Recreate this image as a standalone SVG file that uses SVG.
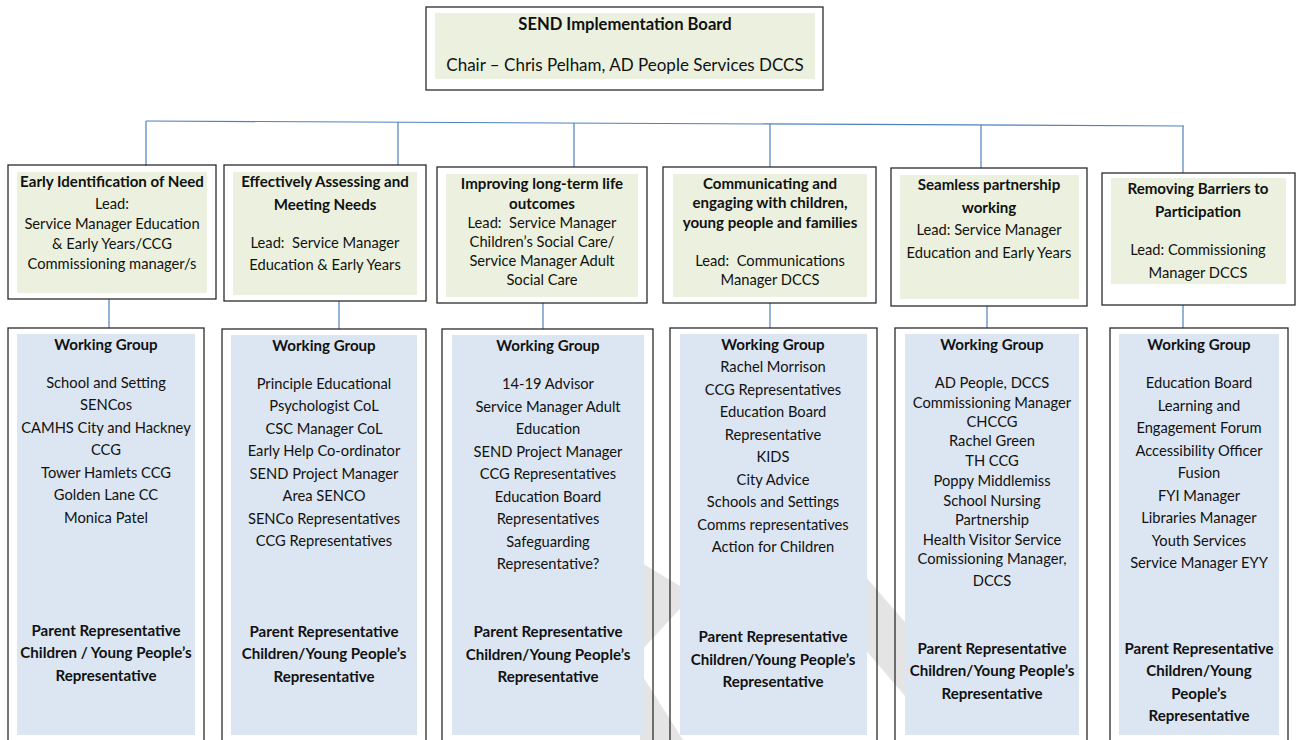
<svg xmlns="http://www.w3.org/2000/svg" width="1302" height="740" viewBox="0 0 1302 740">
<style>
.box{fill:none;stroke:#2b2b2b;stroke-width:1.3}
.g{fill:#EBF1DE}
.b{fill:#DCE6F2}
.wm{fill:#e4e4e4}
.c{stroke:#4F81BD;stroke-width:1.2;fill:none}
text{font-family:Lato,"Open Sans","Liberation Sans",sans-serif;font-size:14.7px;fill:#111;text-anchor:middle}
.h{font-weight:bold;font-size:15.1px}
</style>
<rect width="1302" height="740" fill="#fff"/>
<g id="watermark">
<polygon class="wm" points="640,562 690,592 690,598 640,652"/>
<polygon class="wm" points="640,672 702,770 640,770"/>
<polygon class="wm" points="858,568 917,636 917,710 858,641"/>
</g>
<g id="connectors">
<line class="c" x1="146" y1="121" x2="1184" y2="126"/>
<line class="c" x1="146" y1="121" x2="146" y2="166"/>
<line class="c" x1="398" y1="122" x2="398" y2="165"/>
<line class="c" x1="574" y1="123" x2="574" y2="167"/>
<line class="c" x1="770" y1="124" x2="770" y2="167"/>
<line class="c" x1="981" y1="125" x2="981" y2="168"/>
<line class="c" x1="1183" y1="126" x2="1183" y2="173"/>
<line class="c" x1="109" y1="299" x2="109" y2="328"/>
<line class="c" x1="339" y1="301" x2="339" y2="329"/>
<line class="c" x1="543" y1="303" x2="543" y2="329"/>
<line class="c" x1="770" y1="303" x2="770" y2="328"/>
<line class="c" x1="987" y1="306" x2="987" y2="328"/>
<line class="c" x1="1183" y1="305" x2="1183" y2="328"/>
</g>
<g id="board">
<rect class="g" x="435" y="13" width="380" height="66"/>
<rect class="box" x="426" y="7" width="397" height="83"/>
<text class="h" x="625" y="30" style="font-size:16.6px">SEND Implementation Board</text>
<text x="625" y="71" style="font-size:17px">Chair – Chris Pelham, AD People Services DCCS</text>
</g>
<g id="lead1">
<rect class="g" x="17" y="172" width="190" height="121"/>
<rect class="box" x="8" y="165" width="208" height="134"/>
<text class="h" x="112" y="187">Early Identification of Need</text>
<text x="112" y="209">Lead:</text>
<text x="112" y="229">Service Manager Education</text>
<text x="112" y="249">&amp; Early Years/CCG</text>
<text x="112" y="269">Commissioning manager/s</text>
</g>
<g id="lead2">
<rect class="g" x="233" y="172" width="184" height="123"/>
<rect class="box" x="224" y="165" width="202" height="136"/>
<text class="h" x="325" y="187">Effectively Assessing and</text>
<text class="h" x="325" y="210">Meeting Needs</text>
<text x="325" y="248">Lead:&#160; Service Manager</text>
<text x="325" y="270">Education &amp; Early Years</text>
</g>
<g id="lead3">
<rect class="g" x="446" y="174" width="192" height="123"/>
<rect class="box" x="437" y="167" width="210" height="136"/>
<text class="h" x="542" y="189">Improving long-term life</text>
<text class="h" x="542" y="209">outcomes</text>
<text x="542" y="228">Lead:&#160; Service Manager</text>
<text x="542" y="247">Children’s Social Care/</text>
<text x="542" y="266">Service Manager Adult</text>
<text x="542" y="285">Social Care</text>
</g>
<g id="lead4">
<rect class="g" x="673" y="174" width="194" height="123"/>
<rect class="box" x="663" y="167" width="213" height="136"/>
<text class="h" x="770" y="189">Communicating and</text>
<text class="h" x="770" y="208">engaging with children,</text>
<text class="h" x="770" y="228">young people and families</text>
<text x="770" y="266">Lead:&#160; Communications</text>
<text x="770" y="285">Manager DCCS</text>
</g>
<g id="lead5">
<rect class="g" x="900" y="175" width="179" height="124"/>
<rect class="box" x="891" y="168" width="196" height="138"/>
<text class="h" x="989" y="190">Seamless partnership</text>
<text class="h" x="989" y="213">working</text>
<text x="989" y="235">Lead: Service Manager</text>
<text x="989" y="258">Education and Early Years</text>
</g>
<g id="lead6">
<rect class="g" x="1111" y="178" width="175" height="106"/>
<rect class="box" x="1102" y="173" width="193" height="132"/>
<text class="h" x="1198" y="194">Removing Barriers to</text>
<text class="h" x="1198" y="217">Participation</text>
<text x="1198" y="255">Lead: Commissioning</text>
<text x="1198" y="278">Manager DCCS</text>
</g>
<g id="wg1">
<rect class="b" x="17" y="334" width="178" height="401"/>
<rect class="box" x="8" y="328" width="196" height="420"/>
<text class="h" x="106" y="350">Working Group</text>
<text x="106" y="388">School and Setting</text>
<text x="106" y="410">SENCos</text>
<text x="106" y="433">CAMHS City and Hackney</text>
<text x="106" y="455">CCG</text>
<text x="106" y="478">Tower Hamlets CCG</text>
<text x="106" y="500">Golden Lane CC</text>
<text x="106" y="523">Monica Patel</text>
<text class="h" x="106" y="636">Parent Representative</text>
<text class="h" x="106" y="658">Children / Young People’s</text>
<text class="h" x="106" y="681">Representative</text>
</g>
<g id="wg2">
<rect class="b" x="231" y="335" width="186" height="400"/>
<rect class="box" x="222" y="329" width="204" height="420"/>
<text class="h" x="324" y="351">Working Group</text>
<text x="324" y="389">Principle Educational</text>
<text x="324" y="411">Psychologist CoL</text>
<text x="324" y="434">CSC Manager CoL</text>
<text x="324" y="456">Early Help Co-ordinator</text>
<text x="324" y="479">SEND Project Manager</text>
<text x="324" y="501">Area SENCO</text>
<text x="324" y="524">SENCo Representatives</text>
<text x="324" y="546">CCG Representatives</text>
<text class="h" x="324" y="637">Parent Representative</text>
<text class="h" x="324" y="659">Children/Young People’s</text>
<text class="h" x="324" y="682">Representative</text>
</g>
<g id="wg3">
<rect class="b" x="452" y="335" width="192" height="400"/>
<rect class="box" x="442" y="329" width="211" height="420"/>
<text class="h" x="548" y="351">Working Group</text>
<text x="548" y="389">14-19 Advisor</text>
<text x="548" y="412">Service Manager Adult</text>
<text x="548" y="434">Education</text>
<text x="548" y="457">SEND Project Manager</text>
<text x="548" y="479">CCG Representatives</text>
<text x="548" y="502">Education Board</text>
<text x="548" y="524">Representatives</text>
<text x="548" y="547">Safeguarding</text>
<text x="548" y="569">Representative?</text>
<text class="h" x="548" y="637">Parent Representative</text>
<text class="h" x="548" y="660">Children/Young People’s</text>
<text class="h" x="548" y="682">Representative</text>
</g>
<g id="wg4">
<rect class="b" x="680" y="334" width="187" height="401"/>
<rect class="box" x="670" y="328" width="207" height="420"/>
<text class="h" x="773" y="350">Working Group</text>
<text x="773" y="372">Rachel Morrison</text>
<text x="773" y="395">CCG Representatives</text>
<text x="773" y="417">Education Board</text>
<text x="773" y="440">Representative</text>
<text x="773" y="462">KIDS</text>
<text x="773" y="485">City Advice</text>
<text x="773" y="507">Schools and Settings</text>
<text x="773" y="530">Comms representatives</text>
<text x="773" y="552">Action for Children</text>
<text class="h" x="773" y="642">Parent Representative</text>
<text class="h" x="773" y="665">Children/Young People’s</text>
<text class="h" x="773" y="687">Representative</text>
</g>
<g id="wg5">
<rect class="b" x="905" y="334" width="174" height="401"/>
<rect class="box" x="895" y="328" width="192" height="420"/>
<text class="h" x="992" y="350">Working Group</text>
<text x="992" y="388">AD People, DCCS</text>
<text x="992" y="408">Commissioning Manager</text>
<text x="992" y="427">CHCCG</text>
<text x="992" y="446">Rachel Green</text>
<text x="992" y="466">TH CCG</text>
<text x="992" y="486">Poppy Middlemiss</text>
<text x="992" y="506">School Nursing</text>
<text x="992" y="525">Partnership</text>
<text x="992" y="545">Health Visitor Service</text>
<text x="992" y="564">Comissioning Manager,</text>
<text x="992" y="586">DCCS</text>
<text class="h" x="992" y="654">Parent Representative</text>
<text class="h" x="992" y="676">Children/Young People’s</text>
<text class="h" x="992" y="699">Representative</text>
</g>
<g id="wg6">
<rect class="b" x="1119" y="334" width="160" height="401"/>
<rect class="box" x="1110" y="328" width="178" height="420"/>
<text class="h" x="1199" y="350">Working Group</text>
<text x="1199" y="388">Education Board</text>
<text x="1199" y="411">Learning and</text>
<text x="1199" y="433">Engagement Forum</text>
<text x="1199" y="456">Accessibility Officer</text>
<text x="1199" y="478">Fusion</text>
<text x="1199" y="501">FYI Manager</text>
<text x="1199" y="523">Libraries Manager</text>
<text x="1199" y="546">Youth Services</text>
<text x="1199" y="568">Service Manager EYY</text>
<text class="h" x="1199" y="654">Parent Representative</text>
<text class="h" x="1199" y="676">Children/Young</text>
<text class="h" x="1199" y="699">People’s</text>
<text class="h" x="1199" y="721">Representative</text>
</g>
</svg>
